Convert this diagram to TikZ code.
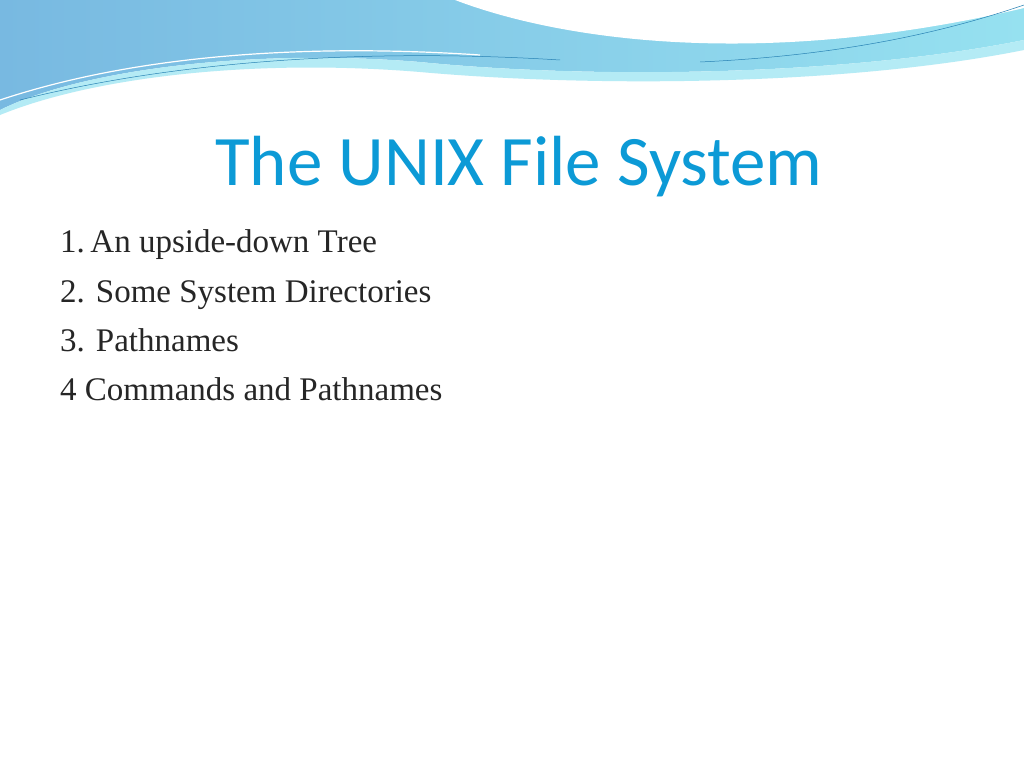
\documentclass[tikz,border=0pt]{standalone}
\usepackage{fontspec}
\setmainfont{Liberation Serif}
\newfontfamily\titlefont{Carlito}
\definecolor{bandA}{RGB}{120,185,225}
\definecolor{bandB}{RGB}{150,225,240}
\definecolor{bandC}{RGB}{180,235,245}
\definecolor{lineC}{RGB}{40,130,180}
\definecolor{titleC}{RGB}{12,154,214}
\begin{document}
\begin{tikzpicture}[x=1pt,y=-1pt,
  item/.style={anchor=base west,inner sep=0pt,font=\fontsize{33}{36}\selectfont,text=black!85}]
\useasboundingbox (0,0) rectangle (1024,768);
\fill[white] (0,0) rectangle (1024,768);
\shade[left color=bandA,right color=bandB]
  (0,0) -- (1024,0) -- (1024,40) .. controls (850,75) and (600,80) .. (420,62)
  .. controls (250,48) and (80,70) .. (0,110) -- cycle;
\fill[bandC]
  (0,110) .. controls (80,70) and (250,48) .. (420,62) .. controls (600,80) and (850,75) .. (1024,40)
  -- (1024,50) .. controls (850,85) and (600,88) .. (420,72) .. controls (250,58) and (90,78) .. (0,115) -- cycle;
\fill[white] (455,0) .. controls (560,40) and (760,70) .. (1024,8) -- (1024,0) -- cycle;
\draw[white,line width=1.2pt] (0,100) .. controls (150,50) and (330,45) .. (480,55);
\draw[lineC,line width=0.5pt] (20,100) .. controls (200,55) and (400,50) .. (560,60);
\draw[lineC,line width=0.5pt] (700,62) .. controls (850,55) and (950,30) .. (1024,5);
\node[font=\titlefont\fontsize{71}{75}\selectfont,text=titleC,inner sep=0pt] (title) at (519,167) {The UNIX File System};
\node[item] (i1) at (60,252) {1.\,An upside-down Tree};
\node[item] (i2) at (60,302) {2. Some System Directories};
\node[item] (i3) at (60,351) {3. Pathnames};
\node[item] (i4) at (60,400) {4 Commands and Pathnames};
\end{tikzpicture}
\end{document}
